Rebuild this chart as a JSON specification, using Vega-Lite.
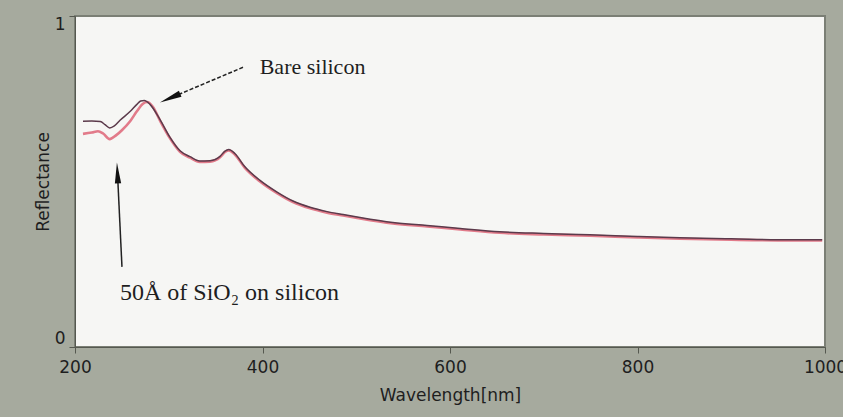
{
  "$schema": "https://vega.github.io/schema/vega-lite/v6.json",
  "width": 750,
  "height": 331,
  "autosize": {"type": "none"},
  "padding": {"left": 75, "top": 16, "right": 18, "bottom": 70},
  "background": "#a6aa9e",
  "view": {"fill": "#f6f6f4", "stroke": "#7b7f75", "strokeWidth": 2},
  "config": {
    "font": "DejaVu Sans",
    "axis": {
      "labelFont": "DejaVu Sans",
      "titleFont": "DejaVu Sans",
      "labelColor": "#1e1e1e",
      "titleColor": "#1e1e1e",
      "titleFontWeight": "normal",
      "domainColor": "#55584f",
      "tickColor": "#55584f",
      "grid": false
    }
  },
  "datasets": {
    "spectra": [
      {"wl": 208.5, "r": 0.682, "series": "Bare silicon"},
      {"wl": 218, "r": 0.683, "series": "Bare silicon"},
      {"wl": 227, "r": 0.681, "series": "Bare silicon"},
      {"wl": 232, "r": 0.672, "series": "Bare silicon"},
      {"wl": 237, "r": 0.662, "series": "Bare silicon"},
      {"wl": 242, "r": 0.668, "series": "Bare silicon"},
      {"wl": 248, "r": 0.685, "series": "Bare silicon"},
      {"wl": 259, "r": 0.712, "series": "Bare silicon"},
      {"wl": 266, "r": 0.733, "series": "Bare silicon"},
      {"wl": 270, "r": 0.743, "series": "Bare silicon"},
      {"wl": 274, "r": 0.745, "series": "Bare silicon"},
      {"wl": 280, "r": 0.733, "series": "Bare silicon"},
      {"wl": 290.7, "r": 0.687, "series": "Bare silicon"},
      {"wl": 301, "r": 0.635, "series": "Bare silicon"},
      {"wl": 312, "r": 0.593, "series": "Bare silicon"},
      {"wl": 322.7, "r": 0.575, "series": "Bare silicon"},
      {"wl": 333, "r": 0.562, "series": "Bare silicon"},
      {"wl": 344, "r": 0.563, "series": "Bare silicon"},
      {"wl": 354.7, "r": 0.576, "series": "Bare silicon"},
      {"wl": 360, "r": 0.592, "series": "Bare silicon"},
      {"wl": 364, "r": 0.597, "series": "Bare silicon"},
      {"wl": 370.7, "r": 0.584, "series": "Bare silicon"},
      {"wl": 381, "r": 0.545, "series": "Bare silicon"},
      {"wl": 397, "r": 0.504, "series": "Bare silicon"},
      {"wl": 415.5, "r": 0.468, "series": "Bare silicon"},
      {"wl": 432.5, "r": 0.441, "series": "Bare silicon"},
      {"wl": 450.7, "r": 0.422, "series": "Bare silicon"},
      {"wl": 468.8, "r": 0.409, "series": "Bare silicon"},
      {"wl": 486, "r": 0.4, "series": "Bare silicon"},
      {"wl": 504, "r": 0.391, "series": "Bare silicon"},
      {"wl": 539, "r": 0.376, "series": "Bare silicon"},
      {"wl": 575.5, "r": 0.367, "series": "Bare silicon"},
      {"wl": 611, "r": 0.358, "series": "Bare silicon"},
      {"wl": 653, "r": 0.348, "series": "Bare silicon"},
      {"wl": 700, "r": 0.343, "series": "Bare silicon"},
      {"wl": 749, "r": 0.339, "series": "Bare silicon"},
      {"wl": 800, "r": 0.334, "series": "Bare silicon"},
      {"wl": 845, "r": 0.33, "series": "Bare silicon"},
      {"wl": 900, "r": 0.327, "series": "Bare silicon"},
      {"wl": 963, "r": 0.324, "series": "Bare silicon"},
      {"wl": 997, "r": 0.324, "series": "Bare silicon"},
      {"wl": 208.5, "r": 0.644, "series": "SiO2"},
      {"wl": 218, "r": 0.648, "series": "SiO2"},
      {"wl": 224.5, "r": 0.652, "series": "SiO2"},
      {"wl": 230, "r": 0.645, "series": "SiO2"},
      {"wl": 237, "r": 0.628, "series": "SiO2"},
      {"wl": 244, "r": 0.64, "series": "SiO2"},
      {"wl": 250, "r": 0.655, "series": "SiO2"},
      {"wl": 259, "r": 0.683, "series": "SiO2"},
      {"wl": 266, "r": 0.712, "series": "SiO2"},
      {"wl": 272.5, "r": 0.735, "series": "SiO2"},
      {"wl": 277, "r": 0.74, "series": "SiO2"},
      {"wl": 283, "r": 0.726, "series": "SiO2"},
      {"wl": 290.7, "r": 0.684, "series": "SiO2"},
      {"wl": 301, "r": 0.632, "series": "SiO2"},
      {"wl": 312, "r": 0.59, "series": "SiO2"},
      {"wl": 322.7, "r": 0.572, "series": "SiO2"},
      {"wl": 333, "r": 0.559, "series": "SiO2"},
      {"wl": 344, "r": 0.56, "series": "SiO2"},
      {"wl": 354.7, "r": 0.573, "series": "SiO2"},
      {"wl": 360, "r": 0.589, "series": "SiO2"},
      {"wl": 364, "r": 0.594, "series": "SiO2"},
      {"wl": 370.7, "r": 0.581, "series": "SiO2"},
      {"wl": 381, "r": 0.542, "series": "SiO2"},
      {"wl": 397, "r": 0.501, "series": "SiO2"},
      {"wl": 415.5, "r": 0.465, "series": "SiO2"},
      {"wl": 432.5, "r": 0.438, "series": "SiO2"},
      {"wl": 450.7, "r": 0.419, "series": "SiO2"},
      {"wl": 468.8, "r": 0.406, "series": "SiO2"},
      {"wl": 486, "r": 0.397, "series": "SiO2"},
      {"wl": 504, "r": 0.388, "series": "SiO2"},
      {"wl": 539, "r": 0.373, "series": "SiO2"},
      {"wl": 575.5, "r": 0.364, "series": "SiO2"},
      {"wl": 611, "r": 0.355, "series": "SiO2"},
      {"wl": 653, "r": 0.345, "series": "SiO2"},
      {"wl": 700, "r": 0.34, "series": "SiO2"},
      {"wl": 749, "r": 0.336, "series": "SiO2"},
      {"wl": 800, "r": 0.331, "series": "SiO2"},
      {"wl": 845, "r": 0.327, "series": "SiO2"},
      {"wl": 900, "r": 0.324, "series": "SiO2"},
      {"wl": 963, "r": 0.322, "series": "SiO2"},
      {"wl": 997, "r": 0.322, "series": "SiO2"}
    ],
    "label1": [{"wl": 397, "r": 0.824, "text": "Bare silicon"}],
    "label2": [{"wl": 248, "r": 0.142, "text": "50Å of SiO₂ on silicon"}],
    "arrow1": [{"wl": 379.2, "r": 0.845, "wl2": 301.4, "r2": 0.752}],
    "head1": [{"wl": 301.4, "r": 0.752}],
    "arrow2": [{"wl": 250.1, "r": 0.242, "wl2": 245.3, "r2": 0.526}],
    "head2": [{"wl": 245.3, "r": 0.526}]
  },
  "layer": [
    {
      "data": {"name": "spectra"},
      "transform": [{"filter": "datum.series === 'SiO2'"}],
      "mark": {"type": "line", "color": "#e27b8a", "strokeWidth": 2.6, "interpolate": "monotone"},
      "encoding": {
        "x": {"field": "wl", "type": "quantitative", "scale": {"domain": [200, 1000], "nice": false},
          "axis": {"values": [200, 400, 600, 800, 1000], "format": "d", "title": "Wavelength[nm]", "labelFontSize": 17, "titleFontSize": 17, "tickSize": 6, "labelPadding": 6, "titlePadding": 12, "labelFlush": false}},
        "y": {"field": "r", "type": "quantitative", "scale": {"domain": [0, 1], "nice": false},
          "axis": {"values": [0, 1], "format": "d", "title": "Reflectance", "labelFontSize": 17, "titleFontSize": 17, "tickSize": 6, "labelPadding": 4, "titlePadding": 2, "labelFlush": true}}
      }
    },
    {
      "data": {"name": "spectra"},
      "transform": [{"filter": "datum.series === 'Bare silicon'"}],
      "mark": {"type": "line", "color": "#5b3a4b", "strokeWidth": 1.5, "interpolate": "monotone"},
      "encoding": {
        "x": {"field": "wl", "type": "quantitative"},
        "y": {"field": "r", "type": "quantitative"}
      }
    },
    {
      "data": {"name": "arrow1"},
      "mark": {"type": "rule", "color": "#222222", "strokeWidth": 1.5, "strokeDash": [4, 2]},
      "encoding": {
        "x": {"field": "wl", "type": "quantitative"},
        "y": {"field": "r", "type": "quantitative"},
        "x2": {"field": "wl2"},
        "y2": {"field": "r2"}
      }
    },
    {
      "data": {"name": "head1"},
      "mark": {"type": "point", "shape": "M0,-1L0.3,1L-0.3,1Z", "filled": true, "color": "#111111", "opacity": 1, "size": 484, "angle": 247},
      "encoding": {
        "x": {"field": "wl", "type": "quantitative"},
        "y": {"field": "r", "type": "quantitative"}
      }
    },
    {
      "data": {"name": "arrow2"},
      "mark": {"type": "rule", "color": "#222222", "strokeWidth": 1.5},
      "encoding": {
        "x": {"field": "wl", "type": "quantitative"},
        "y": {"field": "r", "type": "quantitative"},
        "x2": {"field": "wl2"},
        "y2": {"field": "r2"}
      }
    },
    {
      "data": {"name": "head2"},
      "mark": {"type": "point", "shape": "M0,-1L0.3,1L-0.3,1Z", "filled": true, "color": "#111111", "opacity": 1, "size": 441, "angle": 357},
      "encoding": {
        "x": {"field": "wl", "type": "quantitative"},
        "y": {"field": "r", "type": "quantitative"}
      }
    },
    {
      "data": {"name": "label1"},
      "mark": {"type": "text", "font": "Liberation Serif", "fontSize": 22, "color": "#1e1e1e", "align": "left", "baseline": "alphabetic"},
      "encoding": {
        "x": {"field": "wl", "type": "quantitative"},
        "y": {"field": "r", "type": "quantitative"},
        "text": {"field": "text"}
      }
    },
    {
      "data": {"name": "label2"},
      "mark": {"type": "text", "font": "Liberation Serif", "fontSize": 24, "color": "#1e1e1e", "align": "left", "baseline": "alphabetic"},
      "encoding": {
        "x": {"field": "wl", "type": "quantitative"},
        "y": {"field": "r", "type": "quantitative"},
        "text": {"field": "text"}
      }
    }
  ]
}
